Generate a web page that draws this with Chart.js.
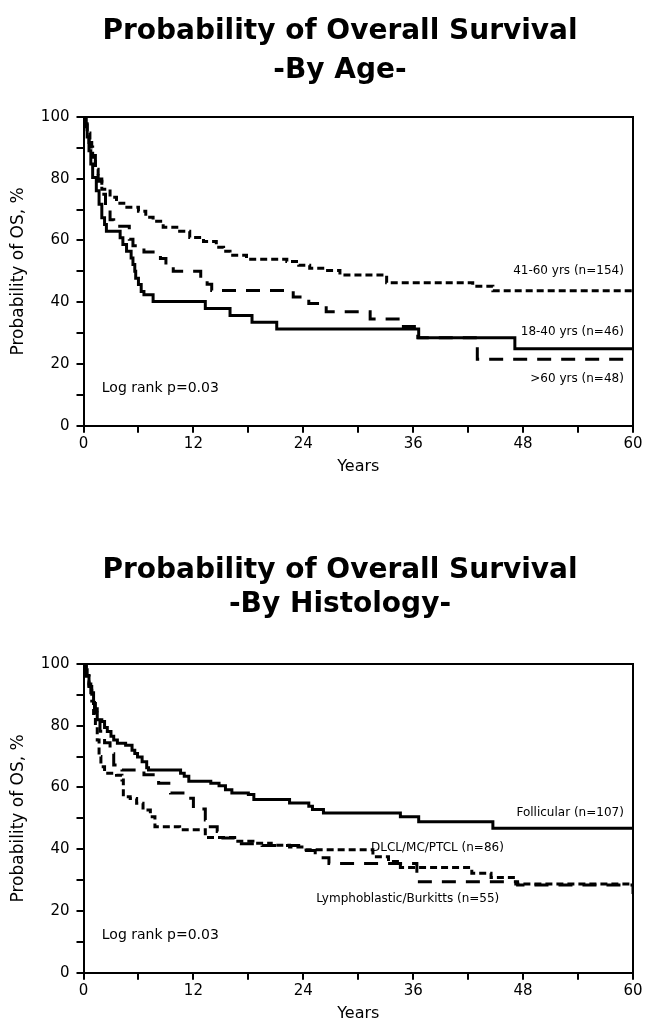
<!DOCTYPE html>
<html>
<head>
<meta charset="utf-8">
<script src="https://cdn.jsdelivr.net/npm/chart.js@4/dist/chart.umd.min.js"></script>
<style>
  body { margin: 0; background: #fff; }
  canvas { display: block; }
</style>
</head>
<body>
<canvas id="ageChart" width="653" height="515"></canvas>
<canvas id="histChart" width="653" height="515"></canvas>
<script>
// months, survival %
const age1840 = [[0,100],[0.2,97.8],[0.4,93.5],[0.6,89.1],[0.8,84.8],[1.0,80.4],[1.4,76.1],[1.7,71.7],[2.0,67.4],[2.3,65.2],[2.5,63.0],[4.0,60.9],[4.3,58.7],[4.7,56.5],[5.2,54.3],[5.4,52.2],[5.6,50.0],[5.7,47.8],[6.0,45.7],[6.3,43.5],[6.6,42.4],[7.6,40.2],[13.3,38.0],[16.0,35.7],[18.4,33.5],[21.1,31.3],[36.6,28.5],[47.1,24.9],[60,24.9]];
const age4160 = [[0,100],[0.2,97.4],[0.4,94.8],[0.7,90.3],[1.0,86.4],[1.3,83.1],[1.6,79.9],[2.0,76.6],[2.9,74.0],[3.6,72.1],[4.4,70.8],[6.0,69.5],[6.8,67.5],[7.6,66.2],[8.7,64.3],[10.5,63.0],[11.6,61.0],[13.1,59.7],[14.5,57.8],[15.3,56.5],[16.0,55.2],[17.8,53.9],[22.2,53.2],[23.5,52.0],[24.7,51.0],[26.3,50.3],[28.0,48.8],[33.1,46.3],[42.5,45.2],[44.7,43.7],[60,42.9]];
const ageOver60 = [[0,100],[0.3,95.8],[0.6,91.7],[0.9,87.5],[1.3,83.3],[1.6,79.2],[2.0,75.0],[2.4,70.8],[2.9,66.7],[3.3,64.6],[5.0,60.4],[5.4,58.3],[6.6,56.3],[8.4,54.2],[9.0,52.1],[9.8,50.0],[12.8,47.9],[13.5,45.8],[14.0,43.8],[22.9,41.7],[24.6,39.6],[26.5,36.9],[31.3,34.6],[34.7,32.1],[36.5,28.5],[43.0,21.5],[60,21.5]];

const histFollicular = [[0,100],[0.2,98.1],[0.4,96.3],[0.6,93.5],[0.8,90.7],[1.1,87.2],[1.3,84.1],[1.5,81.9],[2.0,81.4],[2.3,79.4],[2.6,78.1],[3.0,76.6],[3.3,75.4],[3.7,74.3],[4.6,73.7],[5.3,72.1],[5.6,71.0],[5.9,69.9],[6.4,68.3],[6.9,66.4],[7.1,65.7],[10.6,64.6],[11.0,63.6],[11.5,62.0],[13.9,61.4],[14.8,60.6],[15.5,59.3],[16.2,58.2],[18.0,57.7],[18.6,56.1],[22.5,55.0],[24.6,53.9],[25.0,52.9],[26.2,51.7],[34.6,50.5],[36.6,48.9],[44.7,46.8],[60,46.8]];
const histDlcl = [[0,100],[0.3,96.0],[0.6,92.0],[0.9,88.0],[1.1,84.0],[1.3,79.7],[1.5,75.4],[1.7,70.0],[1.9,66.7],[2.3,64.6],[3.6,64.0],[4.2,62.4],[4.35,57.0],[5.1,56.4],[5.8,54.9],[6.5,52.7],[7.3,50.5],[7.8,47.3],[10.5,46.3],[13.3,43.8],[16.5,42.6],[18.5,41.9],[20.5,41.3],[22.5,40.7],[24.3,39.8],[31.6,37.6],[33.3,36.0],[34.6,34.1],[42.4,32.2],[44.5,30.8],[47.2,28.7],[60,28.7]];
const histLympho = [[0,100],[0.3,96.4],[0.6,92.7],[0.9,89.1],[1.2,85.5],[1.5,81.8],[1.8,78.2],[2.3,74.5],[2.9,70.9],[3.3,67.3],[4.2,65.7],[6.6,64.1],[8.2,61.4],[9.5,58.2],[11.1,56.5],[12.0,53.0],[13.3,49.5],[13.5,47.3],[14.6,45.7],[15.0,43.6],[16.5,41.8],[19.5,41.2],[23.5,39.6],[25.3,37.2],[26.8,35.4],[36.4,29.5],[47.4,28.4],[60,25.5]];

Chart.defaults.font.family = "'DejaVu Sans', Verdana, sans-serif";
Chart.defaults.color = '#000';

const framePlugin = {
  id: 'frame',
  afterDraw(chart) {
    const { ctx, chartArea: a } = chart;
    ctx.save();
    ctx.strokeStyle = '#000';
    ctx.lineWidth = 2;
    ctx.beginPath();
    ctx.moveTo(a.left, a.top);
    ctx.lineTo(a.right, a.top);
    ctx.lineTo(a.right, a.bottom);
    ctx.stroke();
    ctx.restore();
  }
};

const notesPlugin = {
  id: 'notes',
  afterDraw(chart, args, opts) {
    const { ctx } = chart;
    const xs = chart.scales.x, ys = chart.scales.y;
    ctx.save();
    ctx.fillStyle = '#000';
    ctx.textAlign = 'center';
    ctx.textBaseline = 'alphabetic';
    ctx.font = "bold 28px 'DejaVu Sans'";
    (opts.title || []).forEach(t => ctx.fillText(t.text, opts.titleX, t.y));
    ctx.textBaseline = 'middle';
    (opts.items || []).forEach(n => {
      ctx.font = n.size + "px 'DejaVu Sans'";
      ctx.textAlign = n.align;
      ctx.fillText(n.text, xs.getPixelForValue(n.x), ys.getPixelForValue(n.y));
    });
    ctx.restore();
  }
};

function makeChart(id, series, topPad, bottomPad, notes) {
  const axisGrid = { display: true, drawOnChartArea: false, drawTicks: true, tickLength: 7, color: '#000', lineWidth: 2 };
  const axisBorder = { display: true, color: '#000', width: 2 };
  return new Chart(document.getElementById(id), {
    type: 'line',
    data: {
      datasets: series.map(s => ({
        label: s.label,
        data: s.data.map(p => ({ x: p[0], y: p[1] })),
        borderColor: '#000',
        borderWidth: 3,
        borderDash: s.dash,
        borderCapStyle: 'butt',
        stepped: true,
        pointRadius: 0,
        fill: false
      }))
    },
    options: {
      responsive: false,
      devicePixelRatio: 1,
      animation: false,
      layout: { padding: { left: 0, right: 20, top: topPad, bottom: bottomPad } },
      plugins: {
        legend: { display: false },
        tooltip: { enabled: false },
        notes: notes
      },
      scales: {
        x: {
          type: 'linear', min: 0, max: 60,
          grid: axisGrid, border: axisBorder,
          ticks: { stepSize: 6, padding: 2, maxRotation: 0, autoSkip: false, font: { size: 15 },
            callback: v => (v % 12 === 0 ? v : '') },
          title: { display: true, text: 'Years', font: { size: 16 }, padding: 0 },
          afterFit: s => { s.height = 51; }
        },
        y: {
          min: 0, max: 100,
          grid: axisGrid, border: axisBorder,
          ticks: { stepSize: 10, padding: 7, autoSkip: false, font: { size: 15 },
            callback: v => (v % 20 === 0 ? v : '') },
          title: { display: true, text: 'Probability of OS, %', font: { size: 17 }, padding: { top: 8, bottom: 0 } },
          afterFit: s => { s.width = 83.5; }
        }
      }
    },
    plugins: [framePlugin, notesPlugin]
  });
}

makeChart('ageChart', [
  { label: '18-40 yrs (n=46)', data: age1840, dash: [] },
  { label: '41-60 yrs (n=154)', data: age4160, dash: [7, 4] },
  { label: '>60 yrs (n=48)', data: ageOver60, dash: [14, 10] }
], 117, 38.3, {
  titleX: 340,
  title: [{ text: 'Probability of Overall Survival', y: 39 }, { text: '-By Age-', y: 78 }],
  items: [
    { text: '41-60 yrs (n=154)', x: 59, y: 50.2, align: 'right', size: 12 },
    { text: '18-40 yrs (n=46)', x: 59, y: 30.5, align: 'right', size: 12 },
    { text: '>60 yrs (n=48)', x: 59, y: 15.1, align: 'right', size: 12 },
    { text: 'Log rank p=0.03', x: 2, y: 12.2, align: 'left', size: 14 }
  ]
});

makeChart('histChart', [
  { label: 'Follicular (n=107)', data: histFollicular, dash: [] },
  { label: 'DLCL/MC/PTCL (n=86)', data: histDlcl, dash: [7, 4] },
  { label: 'Lymphoblastic/Burkitts (n=55)', data: histLympho, dash: [14, 10] }
], 149, 6.3, {
  titleX: 340,
  title: [{ text: 'Probability of Overall Survival', y: 63 }, { text: '-By Histology-', y: 97 }],
  items: [
    { text: 'Follicular (n=107)', x: 59, y: 51.7, align: 'right', size: 12 },
    { text: 'DLCL/MC/PTCL (n=86)', x: 45.9, y: 40.4, align: 'right', size: 12 },
    { text: 'Lymphoblastic/Burkitts (n=55)', x: 45.4, y: 23.9, align: 'right', size: 12 },
    { text: 'Log rank p=0.03', x: 2, y: 12.2, align: 'left', size: 14 }
  ]
});
</script>
</body>
</html>
